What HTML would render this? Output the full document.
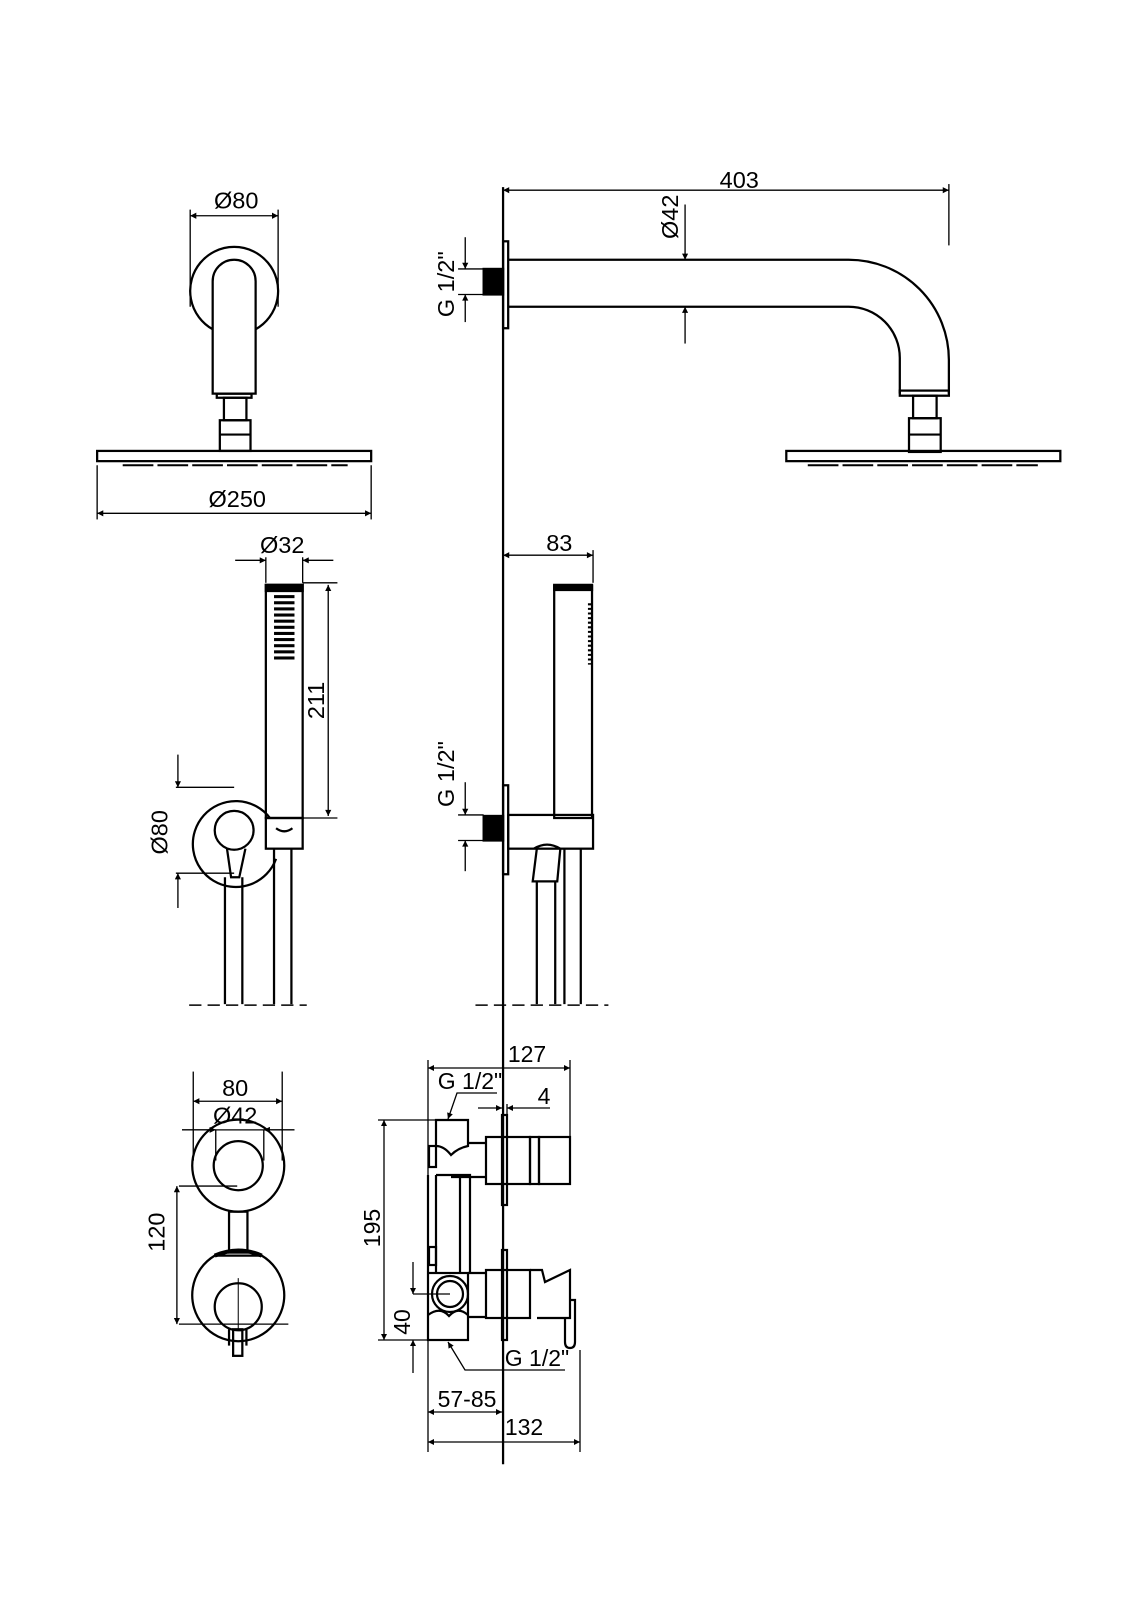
<!DOCTYPE html>
<html><head><meta charset="utf-8"><style>
html,body{margin:0;padding:0;background:#fff;}
svg{display:block;}
text{font-family:"Liberation Sans Narrow","Liberation Sans",sans-serif;font-size:23px;fill:#000;}
</style></head><body>
<svg width="1131" height="1600" viewBox="0 0 1131 1600" xmlns="http://www.w3.org/2000/svg">
<defs>
<marker id="a" viewBox="0 0 10 10" refX="10" refY="5" markerWidth="13" markerHeight="6" orient="auto-start-reverse" markerUnits="userSpaceOnUse"><path d="M0,0 L10,5 L0,10 z" fill="#000"/></marker>
</defs>
<g transform="scale(1.0225)">
<g fill="none" stroke="#000" stroke-width="2.2">
<line x1="492" y1="183" x2="492" y2="1432"/>

<line x1="186" y1="205" x2="186" y2="300" stroke-width="1.3"/>
<line x1="272" y1="205" x2="272" y2="300" stroke-width="1.3"/>
<line x1="186" y1="211" x2="272" y2="211" stroke-width="1.3" marker-start="url(#a)" marker-end="url(#a)"/>
<path d="M208,322 A43,43 0 1 1 250,322"/>
<path d="M208,385 L208,275 A21,21 0 0 1 250,275 L250,385 Z"/>
<rect x="212" y="385" width="34" height="4"/>
<rect x="219" y="389" width="22" height="22"/>
<rect x="215" y="411" width="30" height="30"/>
<line x1="215" y1="425" x2="245" y2="425"/>
<rect x="95" y="441" width="268" height="10"/>
<line x1="120" y1="455" x2="340" y2="455" stroke-width="2" stroke-dasharray="30 4"/>
<line x1="95" y1="455" x2="95" y2="508" stroke-width="1.3"/>
<line x1="363" y1="455" x2="363" y2="508" stroke-width="1.3"/>
<line x1="95" y1="502" x2="363" y2="502" stroke-width="1.3" marker-start="url(#a)" marker-end="url(#a)"/>

<line x1="928" y1="180" x2="928" y2="240" stroke-width="1.3"/>
<line x1="492" y1="186" x2="928" y2="186" stroke-width="1.3" marker-start="url(#a)" marker-end="url(#a)"/>
<rect x="492" y="236" width="5" height="85"/>
<rect x="473" y="263" width="19" height="25" fill="#000"/>
<path d="M497,254 L830,254 A98,98 0 0 1 928,352 L928,385 M497,300 L830,300 A50,50 0 0 1 880,350 L880,385"/>
<rect x="880" y="382" width="48" height="5"/>
<rect x="893" y="387" width="23" height="22"/>
<rect x="889" y="409" width="31" height="33"/>
<line x1="889" y1="425" x2="920" y2="425"/>
<rect x="769" y="441" width="268" height="10"/>
<line x1="790" y1="455" x2="1015" y2="455" stroke-width="2" stroke-dasharray="30 4"/>
<line x1="660" y1="254" x2="690" y2="254" stroke-width="1.3"/>
<line x1="660" y1="300" x2="690" y2="300" stroke-width="1.3"/>
<line x1="670" y1="200" x2="670" y2="254" stroke-width="1.3" marker-end="url(#a)"/>
<line x1="670" y1="336" x2="670" y2="300" stroke-width="1.3" marker-end="url(#a)"/>
<line x1="448" y1="263" x2="473" y2="263" stroke-width="1.3"/>
<line x1="448" y1="288" x2="473" y2="288" stroke-width="1.3"/>
<line x1="455" y1="232" x2="455" y2="263" stroke-width="1.3" marker-end="url(#a)"/>
<line x1="455" y1="315" x2="455" y2="288" stroke-width="1.3" marker-end="url(#a)"/>

<line x1="260" y1="545" x2="260" y2="570" stroke-width="1.3"/>
<line x1="296" y1="545" x2="296" y2="570" stroke-width="1.3"/>
<line x1="230" y1="548" x2="260" y2="548" stroke-width="1.3" marker-end="url(#a)"/>
<line x1="326" y1="548" x2="296" y2="548" stroke-width="1.3" marker-end="url(#a)"/>
<rect x="260" y="572" width="36" height="228"/>
<rect x="260" y="572" width="36" height="6" fill="#000"/>
<line x1="296" y1="570" x2="330" y2="570" stroke-width="1.3"/>
<line x1="296" y1="800" x2="330" y2="800" stroke-width="1.3"/>
<line x1="321" y1="572" x2="321" y2="798" stroke-width="1.3" marker-start="url(#a)" marker-end="url(#a)"/>
<path d="M264,800 A42,42 0 1 0 270,840" />
<circle cx="229" cy="812" r="19"/>
<rect x="260" y="800" width="36" height="30"/>
<path d="M270,810 Q278,816 286,810"/>
<path d="M222,830 L226,858 L234,858 L240,830"/>
<line x1="220" y1="858" x2="220" y2="982"/>
<line x1="237" y1="858" x2="237" y2="982"/>
<line x1="268" y1="830" x2="268" y2="982"/>
<line x1="285" y1="830" x2="285" y2="982"/>
<line x1="185" y1="983" x2="300" y2="983" stroke-width="1.5" stroke-dasharray="12 6"/>
<line x1="172" y1="770" x2="229" y2="770" stroke-width="1.3"/>
<line x1="172" y1="854" x2="229" y2="854" stroke-width="1.3"/>
<line x1="174" y1="738" x2="174" y2="770" stroke-width="1.3" marker-end="url(#a)"/>
<line x1="174" y1="888" x2="174" y2="854" stroke-width="1.3" marker-end="url(#a)"/>

<line x1="580" y1="538" x2="580" y2="570" stroke-width="1.3"/>
<line x1="492" y1="543" x2="580" y2="543" stroke-width="1.3" marker-start="url(#a)" marker-end="url(#a)"/>
<rect x="542" y="573" width="37" height="227"/>
<rect x="542" y="572" width="37" height="5" fill="#000"/>
<line x1="577" y1="590" x2="577" y2="650" stroke-width="4" stroke-dasharray="2 2.5"/>
<rect x="492" y="768" width="5" height="87"/>
<rect x="473" y="798" width="19" height="24" fill="#000"/>
<rect x="497" y="797" width="83" height="33"/>
<path d="M525,830 L521,862 L545,862 L548,830"/>
<path d="M522,830 Q535,822 548,830"/>
<line x1="525" y1="862" x2="525" y2="982"/>
<line x1="543" y1="862" x2="543" y2="982"/>
<line x1="552" y1="830" x2="552" y2="982"/>
<line x1="568" y1="830" x2="568" y2="982"/>
<line x1="465" y1="983" x2="595" y2="983" stroke-width="1.5" stroke-dasharray="12 6"/>
<line x1="448" y1="797" x2="473" y2="797" stroke-width="1.3"/>
<line x1="448" y1="822" x2="473" y2="822" stroke-width="1.3"/>
<line x1="455" y1="765" x2="455" y2="797" stroke-width="1.3" marker-end="url(#a)"/>
<line x1="455" y1="852" x2="455" y2="822" stroke-width="1.3" marker-end="url(#a)"/>

<line x1="189" y1="1048" x2="189" y2="1135" stroke-width="1.3"/>
<line x1="276" y1="1048" x2="276" y2="1135" stroke-width="1.3"/>
<line x1="189" y1="1077" x2="276" y2="1077" stroke-width="1.3" marker-start="url(#a)" marker-end="url(#a)"/>
<line x1="178" y1="1105" x2="288" y2="1105" stroke-width="1.3"/>
<line x1="211" y1="1105" x2="211" y2="1135" stroke-width="1.3"/>
<line x1="258" y1="1105" x2="258" y2="1135" stroke-width="1.3"/>
<line x1="178" y1="1105" x2="211" y2="1105" stroke-width="1.3" marker-end="url(#a)"/>
<line x1="288" y1="1105" x2="258" y2="1105" stroke-width="1.3" marker-end="url(#a)"/>
<circle cx="233" cy="1140" r="45"/>
<circle cx="233" cy="1140" r="24"/>
<line x1="175" y1="1160" x2="232" y2="1160" stroke-width="1.3"/>
<rect x="224" y="1185" width="18" height="40"/>
<path d="M210,1228 A45,45 0 1 0 256,1228 Z" fill="none"/>
<path d="M210,1228 Q233,1218 256,1228" stroke-width="4"/>
<circle cx="233" cy="1278" r="23"/>
<line x1="175" y1="1295" x2="282" y2="1295" stroke-width="1.3"/>
<line x1="233" y1="1250" x2="233" y2="1300" stroke-width="1"/>
<rect x="228" y="1300" width="9" height="26"/>
<line x1="224" y1="1300" x2="224" y2="1316"/>
<line x1="241" y1="1300" x2="241" y2="1316"/>
<line x1="173" y1="1160" x2="173" y2="1295" stroke-width="1.3" marker-start="url(#a)" marker-end="url(#a)"/>
</g>
<g fill="#000">
<rect x="268" y="582" width="20" height="3"/><rect x="268" y="588" width="20" height="3"/><rect x="268" y="594" width="20" height="3"/><rect x="268" y="600" width="20" height="3"/><rect x="268" y="606" width="20" height="3"/><rect x="268" y="612" width="20" height="3"/><rect x="268" y="618" width="20" height="3"/><rect x="268" y="624" width="20" height="3"/><rect x="268" y="630" width="20" height="3"/><rect x="268" y="636" width="20" height="3"/><rect x="268" y="642" width="20" height="3"/>
</g>
<text x="231" y="204" text-anchor="middle">Ø80</text>
<text x="232" y="496" text-anchor="middle">Ø250</text>
<text x="723" y="184" text-anchor="middle">403</text>
<text transform="translate(663,212) rotate(-90)" text-anchor="middle">Ø42</text>
<text transform="translate(444,278) rotate(-90)" text-anchor="middle">G 1/2"</text>
<text x="276" y="541" text-anchor="middle">Ø32</text>
<text x="547" y="539" text-anchor="middle">83</text>
<text transform="translate(317,685) rotate(-90)" text-anchor="middle">211</text>
<text transform="translate(164,814) rotate(-90)" text-anchor="middle">Ø80</text>
<text transform="translate(444,757) rotate(-90)" text-anchor="middle">G 1/2"</text>
<text x="230" y="1072" text-anchor="middle">80</text>
<text x="230" y="1099" text-anchor="middle">Ø42</text>
<text transform="translate(161,1205) rotate(-90)" text-anchor="middle">120</text>
</g>

<!-- ===== valve side view (actual coords) ===== -->
<g fill="none" stroke="#000" stroke-width="2.2">
<line x1="428" y1="1060" x2="428" y2="1452" stroke-width="1.3"/>
<line x1="570" y1="1060" x2="570" y2="1175" stroke-width="1.3"/>
<line x1="428" y1="1068" x2="570" y2="1068" stroke-width="1.3" marker-start="url(#a)" marker-end="url(#a)"/>
<polyline points="497,1093 457,1093 448,1119" stroke-width="1.3" marker-end="url(#a)"/>
<line x1="478" y1="1108" x2="502" y2="1108" stroke-width="1.3" marker-end="url(#a)"/>
<line x1="550" y1="1108" x2="507" y2="1108" stroke-width="1.3" marker-end="url(#a)"/>
<line x1="507" y1="1104" x2="507" y2="1116" stroke-width="1.3"/>
<line x1="378" y1="1120" x2="436" y2="1120" stroke-width="1.3"/>
<line x1="378" y1="1340" x2="428" y2="1340" stroke-width="1.3"/>
<line x1="384" y1="1120" x2="384" y2="1340" stroke-width="1.3" marker-start="url(#a)" marker-end="url(#a)"/>
<!-- upper -->
<rect x="502" y="1115" width="5" height="90"/>
<path d="M436,1146 L436,1120 L468,1120 L468,1146 Q458,1148 451,1155 Q444,1146 436,1146 Z"/>
<rect x="429" y="1146" width="7" height="21"/>
<line x1="468" y1="1143" x2="486" y2="1143"/>
<line x1="451" y1="1177" x2="486" y2="1177"/>
<rect x="486" y="1137" width="44" height="47"/>
<rect x="530" y="1137" width="9" height="47"/>
<rect x="539" y="1137" width="31" height="47"/>
<!-- column -->
<path d="M436,1175 L470,1175 L470,1272 M460,1175 L460,1272 M428,1175 L428,1272 M436,1175 L436,1272"/>
<rect x="429" y="1247" width="7" height="18"/>
<!-- lower -->
<rect x="502" y="1250" width="5" height="90"/>
<rect x="428" y="1273" width="40" height="67"/>
<circle cx="450" cy="1294" r="18"/>
<circle cx="450" cy="1294" r="13"/>
<path d="M428,1315 Q440,1306 449,1316 Q458,1306 468,1315"/>
<line x1="468" y1="1273" x2="486" y2="1273"/>
<line x1="468" y1="1317" x2="486" y2="1317"/>
<rect x="486" y="1270" width="44" height="48"/>
<path d="M530,1270 L542,1270 L545,1282 L570,1270 L570,1318 L537,1318"/>
<path d="M565,1318 L565,1342 Q565,1348 570,1348 Q575,1348 575,1342 L575,1300 L570,1300"/>
<line x1="413" y1="1294" x2="450" y2="1294" stroke-width="1.3"/>
<line x1="413" y1="1262" x2="413" y2="1294" stroke-width="1.3" marker-end="url(#a)"/>
<line x1="413" y1="1373" x2="413" y2="1340" stroke-width="1.3" marker-end="url(#a)"/>
<polyline points="565,1370 465,1370 448,1342" stroke-width="1.3" marker-end="url(#a)"/>
<line x1="580" y1="1350" x2="580" y2="1452" stroke-width="1.3"/>
<line x1="428" y1="1412" x2="502" y2="1412" stroke-width="1.3" marker-start="url(#a)" marker-end="url(#a)"/>
<line x1="428" y1="1442" x2="580" y2="1442" stroke-width="1.3" marker-start="url(#a)" marker-end="url(#a)"/>
</g>
<g style="font-size:23.5px">
<text x="527" y="1062" text-anchor="middle">127</text>
<text x="470" y="1089" text-anchor="middle">G 1/2"</text>
<text x="544" y="1104" text-anchor="middle">4</text>
<text transform="translate(380,1228) rotate(-90)" text-anchor="middle">195</text>
<text transform="translate(410,1322) rotate(-90)" text-anchor="middle">40</text>
<text x="537" y="1366" text-anchor="middle">G 1/2"</text>
<text x="467" y="1407" text-anchor="middle">57-85</text>
<text x="524" y="1435" text-anchor="middle">132</text>
</g>
</svg>
</body></html>
